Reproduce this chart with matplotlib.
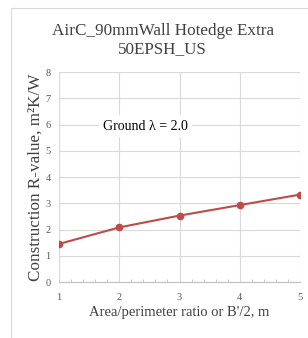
import matplotlib
matplotlib.use("Agg")
import matplotlib.pyplot as plt
from matplotlib.ticker import MultipleLocator
from matplotlib.patches import Rectangle

x_vals = [1, 2, 3, 4, 5]
r_values = [1.45, 2.08, 2.53, 2.93, 3.33]
title = "AirC_90mmWall Hotedge Extra\n50EPSH_US"
xlabel = "Area/perimeter ratio or B'/2, m"
ylabel = "Construction R-value, m²K/W"
annotation = "Ground λ = 2.0"

plt.rcParams['font.family'] = ['Liberation Serif', 'DejaVu Serif']

fig = plt.figure(figsize=(3.08, 3.38), dpi=100)
ax = fig.add_axes([59/308, 1-282/338, (300-59)/308, (282-72)/338])

# outer light border
fig.patches.append(Rectangle((11/308, -0.05), 1.2, 1 - 8/338 + 0.05, transform=fig.transFigure,
                             fill=False, edgecolor='#d9d9d9', linewidth=0.8))

ax.plot(x_vals, r_values, color='#be4b48', linewidth=1.5, marker='o', markersize=4.5, zorder=3)

ax.set_xlim(1, 5)
ax.set_ylim(0, 8)
ax.xaxis.set_major_locator(MultipleLocator(1))
ax.xaxis.set_minor_locator(MultipleLocator(0.2))
ax.yaxis.set_major_locator(MultipleLocator(1))
ax.grid(True, which='major', color='#d9d9d9', linewidth=0.8)
ax.set_axisbelow(True)
for s in ['top', 'right']:
    ax.spines[s].set_visible(False)
ax.spines['left'].set_color('#d9d9d9')
ax.spines['bottom'].set_color('#bfbfbf')
ax.tick_params(axis='both', which='major', labelsize=7.5, colors='#595959', length=0, pad=6)
ax.tick_params(axis='x', which='minor', length=2, color='#bfbfbf', direction='in')
ax.tick_params(axis='x', which='major', pad=8)

ax.set_xlabel(xlabel, fontsize=10.5, color='#404040', labelpad=3)
ax.set_ylabel(ylabel, fontsize=12.3, color='#404040', labelpad=1)
fig.text(0.528, 1-40/338, title, ha='center', va='center', fontsize=12.3, color='#404040', linespacing=1.15)

ax.text(2.43, 5.94, annotation, ha='center', va='center', fontsize=10, color='#000000',
        bbox=dict(facecolor='white', edgecolor='none', pad=3))

fig.savefig('out.png', dpi=100, facecolor='white')
